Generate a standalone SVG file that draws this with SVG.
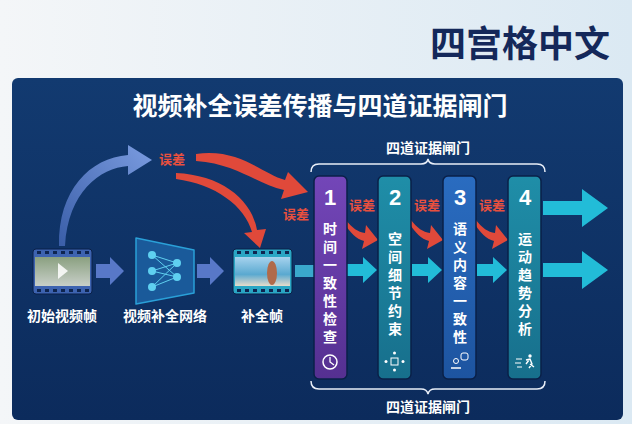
<svg xmlns="http://www.w3.org/2000/svg" width="632" height="424" viewBox="0 0 632 424">
<defs>
<linearGradient id="bg" x1="0" y1="0" x2="1" y2="0"><stop offset="0" stop-color="#f4f6f8"/><stop offset="1" stop-color="#dbe9f3"/></linearGradient>
<linearGradient id="panel" x1="0" y1="0" x2="0" y2="1"><stop offset="0" stop-color="#123a70"/><stop offset="1" stop-color="#0c2b5c"/></linearGradient>
<linearGradient id="blueArr" x1="0" y1="1" x2="1" y2="0"><stop offset="0" stop-color="#3a5ea8"/><stop offset="1" stop-color="#7b9ce0"/></linearGradient>
<linearGradient id="g1" x1="0" y1="0" x2="0" y2="1"><stop offset="0" stop-color="#7346b8"/><stop offset="1" stop-color="#553091"/></linearGradient>
<linearGradient id="g2" x1="0" y1="0" x2="0" y2="1"><stop offset="0" stop-color="#1f8ea8"/><stop offset="1" stop-color="#176f8c"/></linearGradient>
<linearGradient id="g3" x1="0" y1="0" x2="0" y2="1"><stop offset="0" stop-color="#2a6cc0"/><stop offset="1" stop-color="#1d54a0"/></linearGradient>
<linearGradient id="photo1" x1="0" y1="0" x2="0" y2="1"><stop offset="0" stop-color="#8aa080"/><stop offset="1" stop-color="#c8cfc8"/></linearGradient>
<linearGradient id="photo2" x1="0" y1="0" x2="0" y2="1"><stop offset="0" stop-color="#a7d3ee"/><stop offset="0.6" stop-color="#5aa9d0"/><stop offset="1" stop-color="#e6dccb"/></linearGradient>
</defs>
<style>
.cjk{font-family:"Noto Sans CJK SC","Liberation Sans",sans-serif;font-weight:bold}
.w{fill:#fff}
.lbl{font-size:14px;fill:#fff;text-anchor:middle}
.err{font-size:13px;fill:#e8503e;text-anchor:middle}
.gate{stroke:#0a2048;stroke-width:1.5}
.vt{font-size:14px;fill:#fff;writing-mode:vertical-rl;letter-spacing:4px}
.num{font-family:"Liberation Sans",sans-serif;font-weight:bold;font-size:22px;fill:#fff;text-anchor:middle}
.brace{fill:none;stroke:#e8eef8;stroke-width:1.5}
.cy{fill:#22bcd8}
.red{fill:#e0493a}
</style>
<rect width="632" height="424" fill="url(#bg)"/>
<text x="520" y="57" class="cjk" font-size="36" fill="#14285a" text-anchor="middle">四宫格中文</text>
<rect x="12" y="78" width="611" height="342" rx="6" fill="url(#panel)"/>
<text x="320" y="115" class="cjk w" font-size="25" text-anchor="middle">视频补全误差传播与四道证据闸门</text>

<g id="connectors">
<path d="M59,246 C58,190 90,158 128,155 L128,145 L152,160 L128,175 L128,166 C100,168 68,192 65,246 Z" fill="url(#blueArr)"/>
<path d="M96,264 H110 V257 L124,271 L110,285 V278 H96 Z" fill="#5878c8"/>
<path d="M197,264 H210 V257 L224,271 L210,285 V278 H197 Z" fill="#5878c8"/>
<path d="M295,265 H314 V277 H295 Z" fill="#3aa8cc"/>
<path d="M196,154 C240,148 262,174 285,180 L288,172 L308,192 L281,199 L284,190 C258,185 238,164 196,161 Z" class="red"/>
<path d="M176,173 C222,175 252,200 257,230 L266,229 L260,248 L244,233 L252,232 C245,206 215,184 176,179 Z" class="red"/>
<path d="M346,220 C352,228 358,232 365,233 L366,225 L378,240 L362,249 L364,241 C356,239 350,232 346,226 Z" class="red"/>
<path d="M411,220 C417,228 423,232 430,233 L431,225 L443,240 L427,249 L429,241 C421,239 415,232 411,226 Z" class="red"/>
<path d="M476,220 C482,228 488,232 495,233 L496,225 L508,240 L492,249 L494,241 C486,239 480,232 476,226 Z" class="red"/>
<path d="M347,264 H363 V257 L377,270 L363,283 V276 H347 Z" class="cy"/>
<path d="M412,264 H428 V257 L442,270 L428,283 V276 H412 Z" class="cy"/>
<path d="M477,264 H493 V257 L507,270 L493,283 V276 H477 Z" class="cy"/>
<path d="M543,201 H582 V189 L608,208 L582,227 V215 H543 Z" class="cy"/>
<path d="M543,263 H582 V251 L608,270 L582,289 V277 H543 Z" class="cy"/>
<text x="172" y="164" class="cjk err" font-size="14">误差</text>
<text x="296" y="219" class="cjk err">误差</text>
<text x="362" y="210" class="cjk err">误差</text>
<text x="427" y="210" class="cjk err">误差</text>
<text x="492" y="210" class="cjk err">误差</text>
</g>

<g id="frame-input">
<rect x="33" y="249" width="59" height="45" rx="3" fill="#3d63b0" stroke="#0a2048"/>
<rect x="35" y="257" width="55" height="29" fill="url(#photo1)"/>
<path d="M58,263 L68,271 L58,279 Z" fill="#fff" opacity="0.85"/>
<g fill="#0e2550"><rect x="37" y="251" width="4" height="3"/><rect x="45" y="251" width="4" height="3"/><rect x="53" y="251" width="4" height="3"/><rect x="61" y="251" width="4" height="3"/><rect x="69" y="251" width="4" height="3"/><rect x="77" y="251" width="4" height="3"/><rect x="85" y="251" width="4" height="3"/>
<rect x="37" y="289" width="4" height="3"/><rect x="45" y="289" width="4" height="3"/><rect x="53" y="289" width="4" height="3"/><rect x="61" y="289" width="4" height="3"/><rect x="69" y="289" width="4" height="3"/><rect x="77" y="289" width="4" height="3"/><rect x="85" y="289" width="4" height="3"/></g>
<text x="62" y="321" class="cjk lbl">初始视频帧</text>
</g>

<g id="network">
<path d="M136,238 L194,250 L194,293 L136,304 Z" fill="#1a5a9a" stroke="#2aa0d8" stroke-width="1.5" stroke-linejoin="round"/>
<g stroke="#5fd0f0" stroke-width="1"><path d="M152,255 L177,263 M152,255 L177,277 M152,271 L177,263 M152,271 L177,277 M152,287 L177,263 M152,287 L177,277"/></g>
<g fill="#5fd0f0"><circle cx="152" cy="255" r="4"/><circle cx="152" cy="271" r="4"/><circle cx="152" cy="287" r="4"/><circle cx="177" cy="263" r="4"/><circle cx="177" cy="277" r="4"/></g>
<text x="165" y="321" class="cjk lbl">视频补全网络</text>
</g>

<g id="frame-output">
<rect x="233" y="249" width="59" height="45" rx="3" fill="#2aa6c4" stroke="#0a2048"/>
<rect x="235" y="257" width="55" height="29" fill="url(#photo2)"/>
<ellipse cx="272" cy="273" rx="5" ry="12" fill="#b06a4a"/>
<g fill="#0e2550"><rect x="237" y="251" width="4" height="3"/><rect x="245" y="251" width="4" height="3"/><rect x="253" y="251" width="4" height="3"/><rect x="261" y="251" width="4" height="3"/><rect x="269" y="251" width="4" height="3"/><rect x="277" y="251" width="4" height="3"/><rect x="285" y="251" width="4" height="3"/>
<rect x="237" y="289" width="4" height="3"/><rect x="245" y="289" width="4" height="3"/><rect x="253" y="289" width="4" height="3"/><rect x="261" y="289" width="4" height="3"/><rect x="269" y="289" width="4" height="3"/><rect x="277" y="289" width="4" height="3"/><rect x="285" y="289" width="4" height="3"/></g>
<text x="262" y="321" class="cjk lbl">补全帧</text>
</g>

<g id="brace-top">
<path class="brace" d="M311,172 Q311,164 319,164 L421,164 Q427,164 428,159 Q429,164 435,164 L537,164 Q545,164 545,172"/>
<text x="428" y="153" class="cjk lbl" font-size="15">四道证据闸门</text>
</g>
<g id="brace-bottom">
<path class="brace" d="M311,381 Q311,389 319,389 L421,389 Q427,389 428,394 Q429,389 435,389 L537,389 Q545,389 545,381"/>
<text x="428" y="412" class="cjk lbl" font-size="15">四道证据闸门</text>
</g>

<g id="gate1">
<rect x="314" y="176" width="33" height="203" rx="5" fill="url(#g1)" class="gate"/>
<text x="330" y="205" class="num">1</text>
<text class="cjk vt" x="330" y="222">时间一致性检查</text>
<circle cx="330" cy="362" r="7" fill="none" stroke="#fff" stroke-width="1.5"/><path d="M330,357 V362 L334,365" fill="none" stroke="#fff" stroke-width="1.3"/>
</g>
<g id="gate2">
<rect x="378" y="176" width="33" height="203" rx="5" fill="url(#g2)" class="gate"/>
<text x="395" y="205" class="num">2</text>
<text class="cjk vt" x="395" y="232">空间细节约束</text>
<rect x="391" y="358" width="7" height="7" fill="none" stroke="#fff"/><g fill="#fff"><circle cx="394.5" cy="353" r="1.5"/><circle cx="394.5" cy="370" r="1.5"/><circle cx="386" cy="361.5" r="1.5"/><circle cx="403" cy="361.5" r="1.5"/></g>
</g>
<g id="gate3">
<rect x="443" y="176" width="33" height="203" rx="5" fill="url(#g3)" class="gate"/>
<text x="460" y="205" class="num">3</text>
<text class="cjk vt" x="460" y="222">语义内容一致性</text>
<circle cx="456" cy="361" r="2.5" fill="none" stroke="#fff"/><path d="M451,368 H461" stroke="#fff" stroke-width="1.5"/><rect x="461" y="353" width="7" height="7" rx="2" fill="none" stroke="#fff"/>
</g>
<g id="gate4">
<rect x="508" y="176" width="33" height="203" rx="5" fill="url(#g2)" class="gate"/>
<text x="525" y="205" class="num">4</text>
<text class="cjk vt" x="525" y="232">运动趋势分析</text>
<path d="M516,359 H522 M515,363 H521 M517,367 H522" stroke="#fff" stroke-width="1.2"/><circle cx="530" cy="356" r="1.7" fill="#fff"/><path d="M526,360 L530,359 L532,364 L529,368 M530,364 L534,367 M529,360 L526,364" stroke="#fff" stroke-width="1.4" fill="none"/>
</g>
</svg>
